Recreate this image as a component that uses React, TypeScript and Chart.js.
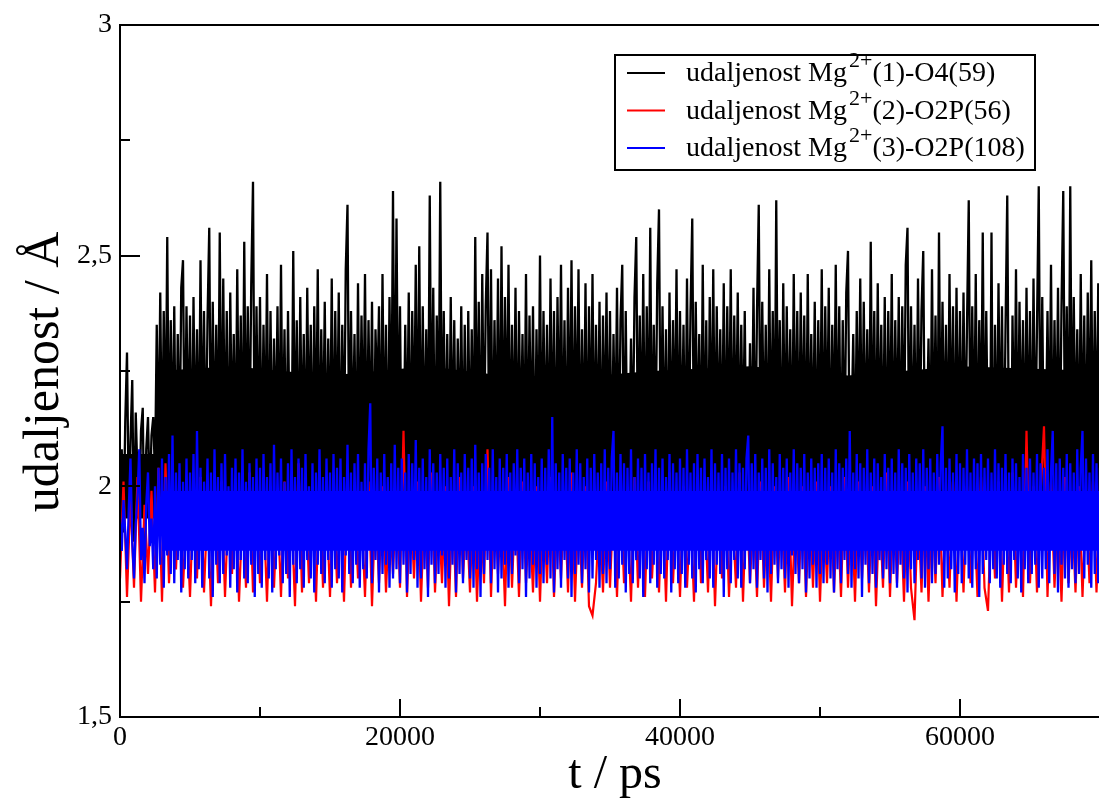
import React, { useEffect, useRef } from 'react';
import { Chart, registerables } from 'chart.js';

Chart.register(...registerables);

// ---- data ----
const BLACK_STEP = 125; // ps between samples
const RED_STEP = 250;
const BLUE_STEP = 125;
const X_MIN = 0;
const X_MAX = 70000;
const Y_MIN = 1.5;
const Y_MAX = 3;
const X_MAJOR_TICKS = [0, 20000, 40000, 60000];
const X_MINOR_TICKS = [10000, 30000, 50000, 70000];
const Y_MAJOR_TICKS = [1.5, 2, 2.5, 3];
const Y_MINOR_TICKS = [1.75, 2.25, 2.75];
const X_TITLE = 't / ps';
const Y_TITLE = 'udaljenost / Å';

const LEGEND_PARTS = [
  ['udaljenost Mg', '2+', '(1)-O4(59)'],
  ['udaljenost Mg', '2+', '(2)-O2P(56)'],
  ['udaljenost Mg', '2+', '(3)-O2P(108)'],
];
const COLORS = ['#000000', '#ff0000', '#0000ff'];

// Mg2+(1)-O4(59)
const BLACK = [
  1.98, 2.08, 1.90, 2.14, 2.29, 1.95, 2.10, 2.23, 1.88, 2.16, 2.02, 1.92, 2.12, 2.17, 1.85, 2.08, 2.15, 1.96, 2.11, 2.15,
  2.02, 2.35, 2.05, 2.42, 2.03, 2.38, 2.07, 2.54, 2.01, 2.36, 2.06, 2.39, 2.00, 2.33, 2.04, 2.43, 2.49, 2.02, 2.39, 2.07,
  2.37, 1.99, 2.41, 2.05, 2.34, 2.01, 2.49, 2.06, 2.38, 2.03, 2.36, 2.56, 2.00, 2.40, 2.07, 2.35, 2.04, 2.55, 2.02, 2.45,
  2.05, 2.38, 1.98, 2.42, 2.08, 2.33, 2.03, 2.47, 2.06, 2.37, 2.01, 2.53, 2.04, 2.39, 2.07, 2.44, 2.66, 2.00, 2.39, 2.05,
  2.41, 2.02, 2.35, 2.06, 2.46, 1.99, 2.38, 2.04, 2.32, 2.08, 2.39, 2.01, 2.48, 2.05, 2.34, 2.00, 2.38, 2.07, 2.03, 2.51,
  2.04, 2.36, 1.99, 2.41, 2.06, 2.33, 2.02, 2.43, 2.08, 2.35, 2.01, 2.39, 2.05, 2.47, 2.00, 2.34, 2.07, 2.40, 2.03, 2.32,
  2.04, 2.45, 2.01, 2.38, 2.06, 2.42, 1.99, 2.35, 2.05, 2.47, 2.61, 2.02, 2.38, 2.07, 2.33, 2.00, 2.44, 2.04, 2.37, 2.08,
  2.46, 2.01, 2.36, 2.06, 2.40, 1.99, 2.34, 2.18, 2.39, 2.02, 2.46, 2.05, 2.35, 2.00, 2.41, 2.07, 2.64, 2.03, 2.58, 2.06,
  2.39, 1.97, 2.02, 2.35, 2.05, 2.42, 2.01, 2.38, 2.07, 2.48, 2.03, 2.52, 2.00, 2.39, 2.06, 2.34, 2.02, 2.63, 2.05, 2.43,
  1.99, 2.37, 2.08, 2.66, 2.01, 2.38, 2.04, 2.33, 2.00, 2.41, 2.06, 2.36, 2.02, 2.32, 2.07, 2.39, 2.03, 2.35, 1.99, 2.38,
  2.05, 2.34, 2.02, 2.54, 2.06, 2.40, 2.00, 2.46, 2.07, 2.39, 2.55, 2.03, 2.47, 2.01, 2.36, 2.06, 2.45, 1.99, 2.52, 2.04,
  2.41, 2.08, 2.48, 2.02, 2.35, 2.05, 2.43, 2.00, 2.38, 2.07, 2.33, 2.03, 2.46, 2.01, 2.37, 2.06, 2.39, 1.99, 2.34, 2.04,
  2.50, 2.01, 2.38, 2.06, 2.35, 2.02, 2.45, 2.05, 2.38, 1.99, 2.41, 2.07, 2.48, 2.03, 2.36, 2.00, 2.43, 2.06, 2.49, 2.02,
  2.39, 2.08, 2.47, 2.01, 2.34, 2.04, 2.44, 1.99, 2.39, 2.06, 2.46, 2.02, 2.35, 2.05, 2.40, 2.00, 2.37, 2.07, 2.42, 2.03,
  2.38, 2.01, 2.33, 2.06, 2.43, 2.02, 2.36, 2.48, 2.00, 2.38, 1.99, 2.05, 2.32, 2.07, 2.41, 2.54, 2.03, 2.37, 2.06, 2.46,
  2.01, 2.39, 2.05, 2.56, 2.00, 2.35, 2.07, 2.44, 2.60, 2.02, 2.39, 2.05, 2.34, 1.99, 2.42, 2.04, 2.36, 2.08, 2.47, 2.02,
  2.38, 2.06, 2.35, 2.00, 2.45, 2.05, 2.38, 2.58, 2.02, 2.40, 2.07, 2.33, 2.01, 2.48, 2.04, 2.36, 1.99, 2.41, 2.06, 2.47,
  2.02, 2.39, 2.08, 2.34, 2.03, 2.44, 2.00, 2.39, 2.05, 2.47, 2.01, 2.37, 2.07, 2.42, 2.03, 2.35, 2.06, 2.38, 1.99, 2.00,
  2.31, 2.05, 2.43, 2.01, 2.38, 2.61, 2.03, 2.40, 2.07, 2.35, 2.00, 2.47, 2.05, 2.38, 2.02, 2.62, 2.06, 2.36, 1.99, 2.44,
  2.04, 2.39, 2.08, 2.34, 2.01, 2.46, 2.05, 2.38, 2.02, 2.42, 2.07, 2.37, 2.00, 2.46, 2.04, 2.33, 2.06, 2.40, 2.01, 2.36,
  2.05, 2.47, 2.02, 2.39, 2.07, 2.43, 2.00, 2.35, 2.06, 2.48, 2.03, 2.39, 1.99, 2.36, 2.05, 2.42, 2.51, 2.01, 2.12, 2.33,
  2.03, 2.38, 2.06, 2.45, 2.02, 2.40, 2.07, 2.34, 2.00, 2.53, 2.04, 2.38, 2.01, 2.44, 2.06, 2.35, 2.03, 2.41, 1.99, 2.38,
  2.05, 2.46, 2.01, 2.36, 2.07, 2.41, 2.02, 2.39, 2.06, 2.48, 2.56, 2.00, 2.39, 2.05, 2.35, 2.02, 2.45, 2.07, 2.38, 2.51,
  2.01, 2.10, 2.32, 2.03, 2.47, 2.05, 2.37, 2.00, 2.55, 2.04, 2.40, 2.07, 2.35, 2.02, 2.46, 2.06, 2.39, 1.99, 2.43, 2.04,
  2.38, 2.02, 2.42, 2.06, 2.35, 2.62, 2.01, 2.39, 2.05, 2.46, 2.00, 2.36, 2.07, 2.55, 2.03, 2.38, 2.06, 1.92, 2.55, 1.87,
  2.35, 2.02, 2.44, 2.05, 2.39, 2.00, 2.34, 2.63, 2.03, 1.87, 2.37, 2.06, 2.47, 2.01, 2.40, 2.07, 2.36, 2.02, 2.43, 2.05,
  2.38, 2.00, 2.45, 2.06, 2.35, 2.65, 2.02, 2.41, 1.99, 2.07, 2.38, 2.04, 2.48, 2.01, 2.36, 2.06, 2.43, 2.02, 2.39, 2.64,
  2.05, 2.39, 2.00, 2.65, 2.04, 2.41, 2.07, 2.34, 2.02, 2.46, 2.05, 2.37, 2.01, 2.42, 2.06, 2.49, 2.03, 2.38, 2.07, 2.44,
  2.04,
];

// Mg2+(2)-O2P(56)
const RED = [
  1.80, 2.01, 1.76, 1.98, 1.78, 2.02, 1.75, 1.96, 1.81, 1.99, 1.77, 2.04, 1.75, 2.05, 1.79, 1.97, 1.82, 2.00, 1.78, 1.95,
  1.76, 1.98, 1.80, 2.02, 1.77, 1.96, 1.74, 1.99, 1.79, 2.01, 1.76, 1.97, 1.81, 2.00, 1.75, 1.95, 1.78, 2.03, 1.77, 1.98,
  1.79, 1.96, 1.75, 2.00, 1.78, 1.97, 1.76, 2.01, 1.80, 1.95, 1.74, 2.05, 1.77, 1.99, 1.79, 1.96, 1.75, 2.02, 1.78, 1.97,
  1.76, 2.00, 1.79, 1.96, 1.75, 2.03, 1.78, 1.98, 1.80, 1.95, 1.76, 2.01, 1.74, 1.97, 1.79, 2.00, 1.77, 1.96, 1.81, 1.99,
  1.78, 2.12, 1.76, 1.98, 1.80, 2.01, 1.75, 1.97, 1.78, 2.03, 1.77, 1.96, 1.79, 2.00, 1.74, 1.98, 1.76, 2.02, 1.80, 1.95,
  1.77, 2.00, 1.75, 1.97, 1.79, 2.08, 1.76, 1.99, 1.81, 1.96, 1.74, 2.02, 1.78, 1.98, 1.76, 2.01, 1.79, 1.95, 1.77, 2.00,
  1.75, 1.98, 1.79, 2.02, 1.76, 1.96, 1.80, 1.99, 1.77, 2.03, 1.75, 1.97, 1.78, 2.00, 1.74, 1.72, 1.79, 1.96, 1.77, 2.01,
  1.78, 1.97, 1.76, 2.00, 1.79, 1.95, 1.75, 2.02, 1.78, 1.98, 1.76, 2.01, 1.80, 1.96, 1.77, 1.99, 1.75, 2.03, 1.79, 1.97,
  1.76, 2.00, 1.78, 1.96, 1.75, 2.02, 1.79, 1.98, 1.77, 2.01, 1.74, 1.97, 1.80, 2.00, 1.76, 1.95, 1.78, 2.03, 1.75, 1.99,
  1.79, 1.96, 1.76, 2.01, 1.78, 1.97, 1.75, 2.00, 1.80, 1.98, 1.77, 2.02, 1.74, 1.96, 1.79, 2.00, 1.76, 1.98, 1.78, 2.01,
  1.75, 1.97, 1.79, 2.00, 1.77, 1.96, 1.76, 2.02, 1.78, 1.98, 1.75, 2.01, 1.80, 1.97, 1.77, 2.00, 1.74, 1.96, 1.78, 2.03,
  1.76, 1.99, 1.79, 1.97, 1.75, 2.01, 1.78, 1.71, 1.96, 1.77, 2.00, 1.75, 1.98, 1.79, 2.02, 1.76, 1.97, 1.78, 2.01, 1.75,
  1.98, 1.77, 2.00, 1.79, 1.96, 1.76, 2.02, 1.78, 1.73, 1.97, 1.80, 2.01, 1.75, 1.99, 1.77, 2.03, 1.78, 1.96, 1.76, 2.12,
  1.79, 2.00, 1.77, 1.98, 2.13, 1.76, 2.01, 1.78, 1.97, 1.75, 2.02, 1.79, 1.96, 1.77, 2.00, 1.76, 1.98, 1.79, 2.01, 1.77, 1.99,
];

// Mg2+(3)-O2P(108)
const BLUE = [
  1.93, 1.86, 1.97, 1.90, 1.82, 1.95, 2.06, 1.88, 1.80, 1.92, 1.98, 2.08, 1.84, 1.91, 1.79, 1.96, 2.03, 1.87, 1.93, 1.82,
  2.00, 1.80, 2.04, 1.83, 2.06, 1.78, 2.02, 1.85, 2.07, 1.81, 2.11, 1.79, 2.03, 1.84, 2.05, 1.77, 2.01, 1.82, 2.06, 1.80,
  2.03, 1.84, 2.07, 1.79, 2.12, 1.82, 2.04, 1.78, 2.01, 1.86, 2.06, 1.80, 2.03, 1.76, 2.08, 1.83, 2.02, 1.79, 2.05, 1.81,
  2.07, 1.85, 2.00, 1.78, 2.04, 1.82, 2.06, 1.77, 2.03, 1.84, 2.08, 1.80, 2.01, 1.79, 2.05, 1.83, 2.02, 1.76, 2.06, 1.81,
  2.04, 1.78, 2.07, 1.84, 2.02, 1.80, 2.05, 1.77, 2.09, 1.82, 2.03, 1.85, 2.06, 1.79, 2.01, 1.81, 2.05, 1.76, 2.08, 1.83,
  2.02, 1.79, 2.06, 1.82, 2.04, 1.78, 2.07, 1.84, 2.00, 1.80, 2.05, 1.77, 2.03, 1.83, 2.08, 1.81, 2.02, 1.79, 2.06, 1.84,
  2.03, 1.78, 2.07, 1.82, 2.04, 1.80, 2.06, 1.77, 2.02, 1.85, 2.09, 1.81, 2.03, 1.79, 2.05, 1.83, 2.07, 1.78, 2.01, 1.82,
  2.05, 1.80, 2.08, 2.18, 1.79, 2.04, 1.84, 2.06, 1.77, 2.03, 1.81, 2.07, 1.83, 2.02, 1.78, 2.05, 1.80, 2.09, 1.82, 2.04,
  1.79, 2.06, 1.83, 2.03, 1.77, 2.07, 1.81, 2.05, 1.84, 2.10, 1.78, 2.04, 1.80, 2.06, 1.82, 2.02, 1.76, 2.08, 1.83, 2.05,
  1.79, 2.03, 1.81, 2.07, 1.85, 2.04, 1.78, 2.06, 1.80, 2.02, 1.83, 2.08, 1.77, 2.05, 1.81, 2.03, 1.79, 2.07, 1.84, 2.04,
  1.80, 2.06, 1.78, 2.09, 1.82, 2.03, 1.76, 2.05, 1.81, 2.07, 1.84, 2.04, 1.79, 2.08, 1.82, 2.02, 1.77, 2.06, 1.80, 2.04,
  1.83, 2.07, 1.78, 2.03, 1.81, 2.05, 1.85, 2.08, 1.79, 2.04, 1.82, 2.06, 1.76, 2.03, 1.80, 2.07, 1.83, 2.05, 1.78, 2.02,
  1.81, 2.06, 1.79, 2.04, 1.83, 2.08, 1.80, 2.15, 1.77, 2.05, 1.82, 2.03, 1.78, 2.07, 1.84, 2.04, 1.80, 2.06, 1.76, 2.03,
  1.81, 2.08, 1.83, 2.05, 1.79, 2.02, 1.82, 2.06, 1.77, 2.04, 1.80, 2.07, 1.84, 2.03, 1.78, 2.05, 1.81, 2.08, 1.79, 2.04,
  1.82, 2.06, 2.12, 1.78, 2.03, 1.80, 2.07, 1.83, 2.05, 1.77, 2.04, 1.81, 2.08, 1.79, 2.02, 1.84, 2.06, 1.80, 2.04, 1.76,
  2.07, 1.82, 2.03, 1.79, 2.05, 1.83, 2.08, 1.78, 2.04, 1.81, 2.06, 1.80, 2.02, 1.84, 2.07, 1.77, 2.05, 1.82, 2.03, 1.79,
  2.06, 1.81, 2.04, 1.78, 2.08, 1.83, 2.03, 1.80, 2.05, 1.77, 2.07, 1.82, 2.04, 1.79, 2.06, 1.84, 2.02, 1.80, 2.08, 1.78,
  2.05, 1.83, 2.03, 1.81, 2.07, 1.76, 2.04, 1.82, 2.06, 1.79, 2.03, 1.84, 2.08, 1.80, 2.05, 1.78, 2.04, 1.82, 2.06, 2.11,
  1.79, 2.05, 1.82, 2.07, 1.78, 2.03, 1.84, 2.06, 1.80, 2.04, 1.77, 2.08, 1.81, 2.05, 1.83, 2.02, 1.79, 2.07, 1.82, 2.04,
  1.80, 2.06, 1.78, 2.03, 1.85, 2.08, 1.81, 2.05, 1.79, 2.04, 1.82, 2.07, 1.77, 2.03, 1.80, 2.06, 1.83, 2.04, 1.78, 2.05,
  1.81, 2.07, 1.79, 2.04, 1.83, 2.06, 1.80, 2.03, 1.77, 2.08, 1.82, 2.05, 1.79, 2.04, 1.84, 2.06, 1.81, 2.12, 1.78, 2.03,
  1.82, 2.07, 1.80, 2.05, 1.76, 2.04, 1.83, 2.08, 1.79, 2.03, 1.81, 2.06, 1.78, 2.05, 1.84, 2.02, 1.80, 2.07, 1.82, 2.04,
  1.79, 2.06, 1.81, 2.03, 1.78, 2.08, 1.83, 2.05, 1.80, 2.04, 1.77, 2.07, 1.82, 2.03, 1.79, 2.06, 1.84, 2.05, 1.80, 2.08,
  1.78, 2.04, 1.82, 2.06, 1.79, 2.03, 1.81, 2.07, 1.83, 2.05, 2.13, 1.78, 2.04, 1.80, 2.06, 1.82, 2.03, 1.77, 2.07, 1.81,
  2.05, 1.79, 2.04, 1.83, 2.08, 1.80, 2.03, 1.78, 2.06, 1.82, 2.05, 1.76, 2.07, 1.81, 2.04, 1.84, 2.06, 1.79, 2.03, 1.82,
  2.08, 1.80, 2.05, 1.78, 2.04, 1.83, 2.07, 1.81, 2.03, 1.79, 2.06, 1.84, 2.05, 1.80, 2.02, 1.77, 2.07, 1.82, 2.04, 1.79,
  2.06, 1.81, 2.03, 1.83, 2.07, 1.78, 2.05, 1.80, 2.04, 1.82, 2.08, 1.79, 2.03, 2.12, 1.81, 2.05, 1.77, 2.06, 1.83, 2.04,
  1.80, 2.07, 1.78, 2.05, 1.82, 2.03, 1.79, 2.08, 1.81, 2.04, 2.12, 1.80, 2.06, 1.83, 2.03, 1.78, 2.07, 1.81, 2.05, 1.79,
  2.04,
];

// solid cores where the dense fluctuations of a trace overlap completely
const BLACK_CORE_T = [0, 2500, 2700, 8000, 15000, 22000, 30000, 38000, 45000, 52000, 60000, 70000];
const BLACK_CORE_LO = [1.93, 1.93, 1.95, 1.95, 1.95, 1.95, 1.95, 1.95, 1.95, 1.95, 1.95, 1.95];
const BLACK_CORE_HI = [2.07, 2.07, 2.25, 2.26, 2.24, 2.26, 2.23, 2.25, 2.26, 2.24, 2.26, 2.25];
const BLUE_CORE_T = [3000, 70000];
const BLUE_CORE_LO = [1.86, 1.86];
const BLUE_CORE_HI = [1.99, 1.99];

const FONT = '"Liberation Serif", "DejaVu Serif", serif';

const series = (vals: number[], step: number) => vals.map((y, i) => ({ x: i * step, y }));
const band = (ts: number[], vals: number[]) => vals.map((y, i) => ({ x: ts[i], y }));
const fmt = (v: number) => String(v).replace('.', ',');

const framePlugin = {
  id: 'xmgraceFrame',
  afterDatasetsDraw(chart: any) {
    const { ctx, chartArea: a, scales } = chart;
    const xs = scales.x;
    const ys = scales.y;
    ctx.save();
    ctx.strokeStyle = '#000';
    ctx.lineWidth = 2;
    ctx.beginPath();
    for (const v of X_MAJOR_TICKS) {
      const px = Math.round(xs.getPixelForValue(v));
      ctx.moveTo(px, a.bottom);
      ctx.lineTo(px, a.bottom - 18);
    }
    for (const v of X_MINOR_TICKS) {
      const px = Math.round(xs.getPixelForValue(v));
      ctx.moveTo(px, a.bottom);
      ctx.lineTo(px, a.bottom - 10);
    }
    for (const v of Y_MAJOR_TICKS) {
      const py = Math.round(ys.getPixelForValue(v));
      ctx.moveTo(a.left, py);
      ctx.lineTo(a.left + 20, py);
    }
    for (const v of Y_MINOR_TICKS) {
      const py = Math.round(ys.getPixelForValue(v));
      ctx.moveTo(a.left, py);
      ctx.lineTo(a.left + 10, py);
    }
    ctx.stroke();
    ctx.strokeRect(Math.round(a.left), Math.round(a.top), Math.round(a.right - a.left), Math.round(a.bottom - a.top));

    // x tick labels
    ctx.fillStyle = '#000';
    ctx.font = `28px ${FONT}`;
    ctx.textAlign = 'center';
    ctx.textBaseline = 'top';
    for (const v of X_MAJOR_TICKS) {
      ctx.fillText(String(v), xs.getPixelForValue(v), a.bottom + 7);
    }

    // legend
    const bx = 615, by = 55, bw = 420, bh = 115;
    ctx.fillStyle = '#fff';
    ctx.fillRect(bx, by, bw, bh);
    ctx.strokeStyle = '#000';
    ctx.lineWidth = 2;
    ctx.strokeRect(bx, by, bw, bh);
    LEGEND_PARTS.forEach((parts, i) => {
      const ly = 73 + i * 37.5;
      ctx.strokeStyle = COLORS[i];
      ctx.lineWidth = 2;
      ctx.beginPath();
      ctx.moveTo(627, ly);
      ctx.lineTo(665, ly);
      ctx.stroke();
      ctx.fillStyle = '#000';
      ctx.textAlign = 'left';
      ctx.textBaseline = 'alphabetic';
      let tx = 686;
      const base = ly + 8;
      ctx.font = `28px ${FONT}`;
      ctx.fillText(parts[0], tx, base);
      tx += ctx.measureText(parts[0]).width + 2;
      ctx.font = `22px ${FONT}`;
      ctx.fillText(parts[1], tx, base - 14);
      tx += ctx.measureText(parts[1]).width;
      ctx.font = `28px ${FONT}`;
      ctx.fillText(parts[2], tx, base);
    });

    // axis titles
    ctx.fillStyle = '#000';
    ctx.font = `48px ${FONT}`;
    ctx.textAlign = 'center';
    ctx.textBaseline = 'alphabetic';
    ctx.fillText(X_TITLE, 615, 788);
    ctx.translate(58, 372);
    ctx.rotate(-Math.PI / 2);
    ctx.font = `50px ${FONT}`;
    ctx.fillText(Y_TITLE, 0, 0);
    ctx.restore();
  },
};

export default function App() {
  const ref = useRef<HTMLCanvasElement | null>(null);

  useEffect(() => {
    document.body.style.margin = '0';
    document.body.style.overflow = 'hidden';
    const canvas = ref.current;
    if (!canvas) return;
    const lineDs = (label: string, vals: number[], step: number, color: string, order: number, width: number) => ({
      label,
      data: series(vals, step),
      borderColor: color,
      backgroundColor: color,
      borderWidth: width,
      pointRadius: 0,
      tension: 0,
      fill: false,
      order,
      borderJoinStyle: 'miter',
    });
    const bandDs = (ts: number[], vals: number[], color: string, order: number, fill: any) => ({
      label: '',
      data: band(ts, vals),
      borderColor: 'rgba(0,0,0,0)',
      backgroundColor: color,
      borderWidth: 0,
      pointRadius: 0,
      tension: 0,
      fill,
      order,
    });
    const chart = new Chart(canvas, {
      type: 'line',
      data: {
        datasets: [
          lineDs(LEGEND_PARTS[0].join(''), BLACK, BLACK_STEP, COLORS[0], 4, 2.3),
          lineDs(LEGEND_PARTS[1].join(''), RED, RED_STEP, COLORS[1], 3, 2.2),
          lineDs(LEGEND_PARTS[2].join(''), BLUE, BLUE_STEP, COLORS[2], 1, 2.3),
          bandDs(BLACK_CORE_T, BLACK_CORE_LO, COLORS[0], 5, false),
          bandDs(BLACK_CORE_T, BLACK_CORE_HI, COLORS[0], 5, '-1'),
          bandDs(BLUE_CORE_T, BLUE_CORE_LO, COLORS[2], 2, false),
          bandDs(BLUE_CORE_T, BLUE_CORE_HI, COLORS[2], 2, '-1'),
        ] as any,
      },
      options: {
        animation: false,
        responsive: false,
        devicePixelRatio: 1,
        layout: { padding: { top: 20, right: 2, left: 0, bottom: 0 } },
        plugins: {
          legend: { display: false },
          tooltip: { enabled: false },
          title: { display: false },
        },
        scales: {
          x: {
            type: 'linear',
            min: X_MIN,
            max: X_MAX,
            grid: { display: false, drawTicks: false },
            border: { display: false },
            ticks: { display: false, stepSize: 20000 },
            afterFit: (s: any) => {
              s.height = 84;
            },
          },
          y: {
            type: 'linear',
            min: Y_MIN,
            max: Y_MAX,
            grid: { display: false, drawTicks: false },
            border: { display: false },
            ticks: {
              stepSize: 0.5,
              padding: 8,
              color: '#000',
              font: { family: FONT, size: 28 },
              callback: (v: any) => fmt(v),
            },
            afterFit: (s: any) => {
              s.width = 120;
            },
          },
        },
      } as any,
      plugins: [framePlugin],
    });
    return () => chart.destroy();
  }, []);

  return (
    <div style={{ position: 'fixed', left: 0, top: 0, width: 1102, height: 801, background: '#fff' }}>
      <canvas ref={ref} width={1102} height={801} style={{ width: 1102, height: 801, display: 'block' }} />
    </div>
  );
}
